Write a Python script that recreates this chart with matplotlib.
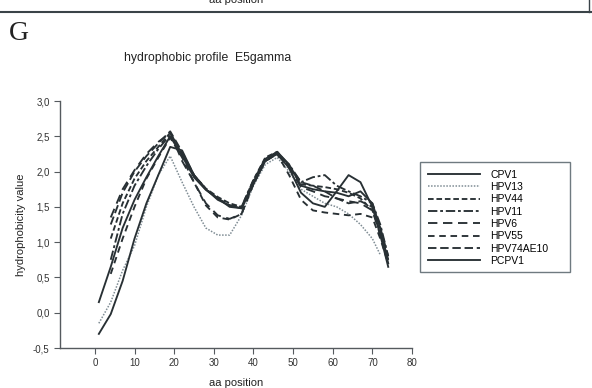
import numpy as np
import matplotlib
matplotlib.use("Agg")
import matplotlib.pyplot as plt
from matplotlib.ticker import FuncFormatter
from matplotlib.patches import Rectangle

nan = np.nan
aa_pos = [1, 4, 7, 10, 13, 16, 19, 22, 25, 28, 31, 34, 37, 40, 43, 46, 49, 52, 55, 58, 61, 64, 67, 70, 72, 74]

CPV1 = [0.15, 0.65, 1.20, 1.60, 1.92, 2.22, 2.50, 2.22, 1.92, 1.74, 1.62, 1.50, 1.48, 1.85, 2.18, 2.28, 2.10, 1.80, 1.75, 1.72, 1.70, 1.65, 1.72, 1.55, 1.20, 0.70]
HPV13 = [-0.15, 0.15, 0.60, 0.95, 1.50, 1.95, 2.22, 1.85, 1.50, 1.20, 1.10, 1.10, 1.38, 1.80, 2.10, 2.20, 2.00, 1.75, 1.65, 1.55, 1.50, 1.40, 1.25, 1.05, 0.82, nan]
HPV44 = [nan, 1.05, 1.55, 1.90, 2.15, 2.35, 2.55, 2.25, 1.95, 1.76, 1.64, 1.55, 1.50, 1.88, 2.20, 2.28, 2.08, 1.82, 1.80, 1.78, 1.75, 1.70, 1.62, 1.45, 1.15, 0.75]
HPV11 = [nan, 0.75, 1.40, 1.80, 2.08, 2.32, 2.52, 2.25, 1.95, 1.75, 1.62, 1.52, 1.50, 1.88, 2.18, 2.26, 2.10, 1.85, 1.92, 1.95, 1.80, 1.72, 1.65, 1.55, 1.25, 0.80]
HPV6 = [nan, 1.35, 1.75, 2.02, 2.25, 2.42, 2.55, 2.15, 1.85, 1.55, 1.38, 1.33, 1.40, 1.85, 2.15, 2.25, 2.05, 1.78, 1.72, 1.65, 1.62, 1.58, 1.55, 1.45, 1.10, 0.75]
HPV55 = [nan, 0.55, 1.05, 1.50, 1.90, 2.20, 2.48, 2.20, 1.85, 1.52, 1.35, 1.32, 1.40, 1.82, 2.15, 2.25, 1.95, 1.60, 1.45, 1.42, 1.40, 1.38, 1.40, 1.35, 1.05, 0.70]
HPV74AE10 = [nan, 1.25, 1.70, 2.00, 2.22, 2.40, 2.57, 2.28, 1.95, 1.75, 1.62, 1.52, 1.48, 1.86, 2.18, 2.27, 2.08, 1.85, 1.80, 1.72, 1.62, 1.55, 1.58, 1.50, 1.20, 0.80]
PCPV1 = [-0.30, -0.02, 0.45, 1.05, 1.55, 1.95, 2.35, 2.30, 1.95, 1.75, 1.60, 1.52, 1.48, 1.82, 2.15, 2.25, 2.05, 1.70, 1.55, 1.50, 1.72, 1.95, 1.85, 1.50, 1.10, 0.65]

series_names = ["CPV1", "HPV13", "HPV44", "HPV11", "HPV6", "HPV55", "HPV74AE10", "PCPV1"]
series_vals = [CPV1, HPV13, HPV44, HPV11, HPV6, HPV55, HPV74AE10, PCPV1]
x_ticks = [0, 10, 20, 30, 40, 50, 60, 70, 80]
y_ticks = [-0.5, 0.0, 0.5, 1.0, 1.5, 2.0, 2.5, 3.0]

styles = [
    "-",
    (0, (1, 1)),
    (0, (3, 1.5)),
    (0, (5, 1.5, 1.5, 1.5)),
    (0, (5, 3)),
    (0, (3.5, 2.5)),
    (0, (4.5, 2)),
    "-",
]

plt.rcParams['font.family'] = ['Liberation Sans', 'DejaVu Sans']
W, H = 592, 388
fig = plt.figure(figsize=(W / 100, H / 100), dpi=100)
fig.patch.set_facecolor("white")

ax = fig.add_axes([60 / W, 1 - 348 / H, 352 / W, 247 / H])
col = "#283034"
for name, vals, ls in zip(series_names, series_vals, styles):
    lw = 1.1 if name == "HPV13" else 1.35
    c = "#7f8c94" if name == "HPV13" else col
    ax.plot(aa_pos, vals, linestyle=ls, color=c, lw=lw, label=name)

ax.set_xlim(-8.8, 80)
ax.set_ylim(-0.5, 3.0)
ax.set_xticks(x_ticks)
ax.set_yticks(y_ticks)
fmt = FuncFormatter(lambda v, p: ("%.1f" % v).replace(".", ","))
ax.yaxis.set_major_formatter(fmt)
for s in ["top", "right"]:
    ax.spines[s].set_visible(False)
for s in ["left", "bottom"]:
    ax.spines[s].set_color("#555a5e")
    ax.spines[s].set_linewidth(1.0)
ax.tick_params(direction="out", length=4, width=0.8, colors="#555a5e", labelsize=7, labelcolor="#333")
ax.set_xlabel("aa position", fontsize=8, color="#222", labelpad=7)
ax.set_ylabel("hydrophobicity value", fontsize=8, color="#222", labelpad=5)

# legend frame drawn as its own box
fig.add_artist(Rectangle((420 / W, 1 - 272 / H), 150 / W, 110 / H, transform=fig.transFigure,
                         facecolor="white", edgecolor="#6f7a80", lw=1.0, zorder=2))
leg = fig.legend(loc="upper left", bbox_to_anchor=(421 / W, 1 - 163 / H), ncol=1,
                 fontsize=7.5, handlelength=5.0, labelspacing=0.22, handletextpad=1.0,
                 borderpad=0.65, borderaxespad=0, frameon=False)
leg.set_zorder(3)

fig.text(208 / W, 1 - 58 / H, "hydrophobic profile  E5gamma", ha="center", va="center", fontsize=8.8, color="#222")
fig.text(9 / W, 1 - 34 / H, "G", ha="left", va="center", fontsize=20, family="Liberation Serif", color="#222")
fig.text(236 / W, 1.0, "aa position", ha="center", va="center", fontsize=8, color="#222")
fig.add_artist(plt.Line2D([0, 1], [1 - 12 / H, 1 - 12 / H], transform=fig.transFigure, color="#3a4348", lw=1.5))
fig.add_artist(plt.Line2D([589 / W, 589 / W], [1 - 12 / H, 1], transform=fig.transFigure, color="#3a4348", lw=1.0))

fig.savefig("out.png", dpi=100, facecolor="white")
